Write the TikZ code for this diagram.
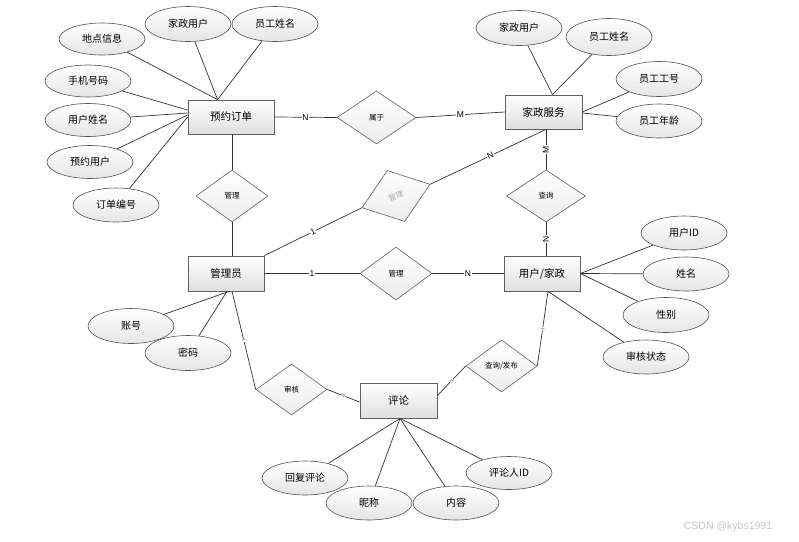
\documentclass[tikz,border=0pt]{standalone}
\usepackage{fontspec}
\setmainfont{Noto Sans CJK SC}
\newfontfamily\lsans{Liberation Sans}
\usetikzlibrary{shapes.geometric,shadows}
\begin{document}
\begin{tikzpicture}[x=1pt,y=-1pt,
  ent/.style={rectangle, draw=gray!75!black, line width=0.8pt, top color=white, bottom color=gray!25,
    minimum width=#1, minimum height=34pt, inner sep=0pt, font=\fontsize{10.5}{12}\selectfont,
    drop shadow={shadow xshift=1.2pt, shadow yshift=-1.2pt, opacity=0.35}},
  ent/.default=77pt,
  attr/.style={ellipse, draw=gray!65!black, line width=0.6pt, top color=white, bottom color=gray!20,
    minimum width=86pt, minimum height=34pt, inner sep=0pt, font=\fontsize{10}{12}\selectfont},
  rel/.style={diamond, draw=gray!75!black, line width=0.6pt, top color=white, bottom color=gray!15,
    minimum width=#1, minimum height=52pt, inner sep=0pt, font=\fontsize{7.5}{9}\selectfont},
  rel/.default=72pt,
  conn/.style={draw=black!80, line width=0.7pt},
  lbl/.style={font=\lsans\fontsize{8.5}{9}\selectfont, fill=white, inner sep=0.6pt},
  tinylbl/.style={font=\lsans\fontsize{4.5}{5}\selectfont, fill=white, inner sep=0.3pt, sloped, text=gray!60!black}
]
\fill[white] (0,0) rectangle (799,541);
\useasboundingbox (0,0) rectangle (799,541);

% entities
\node[ent=86pt] (yy) at (231,117) {预约订单};
\node[ent] (jz) at (543.5,112) {家政服务};
\node[ent=76pt, minimum height=35pt] (gly) at (226,273.5) {管理员};
\node[ent=76pt, minimum height=35pt] (yh) at (542,273.5) {用户/家政};
\node[ent, minimum height=35pt] (pl) at (398.5,400.5) {评论};

% relationships
\node[rel=79pt, minimum height=53pt] (sy) at (376.5,117.5) {属于};
\node[rel] (gl1) at (232,196) {管理};
\node[rel=79pt] (cx) at (546,196) {查询};
\node[rel, minimum height=53pt] (gl2) at (396,273.5) {管理};
\node[rel, minimum height=54pt, rotate=19, text=gray!70] (gl3) at (396,196) {管理};
\node[rel=71pt, minimum height=51pt] (sh) at (291.5,389.5) {审核};
\node[rel=71pt] (cf) at (501.5,366) {查询/发布};

% attributes of 预约订单
\node[attr, minimum height=32pt] (a1) at (102,39) {地点信息};
\node[attr, minimum height=35pt] (a2) at (188,24) {家政用户};
\node[attr, minimum height=35pt] (a3) at (275,24) {员工姓名};
\node[attr, minimum height=32pt] (a4) at (88,81) {手机号码};
\node[attr, minimum height=33pt] (a5) at (88,120) {用户姓名};
\node[attr, minimum height=33pt] (a6) at (90,162) {预约用户};
\node[attr] (a7) at (116,205) {订单编号};

% attributes of 家政服务
\node[attr, minimum height=35pt] (b1) at (519,28) {家政用户};
\node[attr, minimum height=37pt] (b2) at (609,37) {员工姓名};
\node[attr, minimum height=35pt] (b3) at (659,79) {员工工号};
\node[attr] (b4) at (659,121) {员工年龄};

% attributes of 用户/家政
\node[attr] (c1) at (684,233) {用户ID};
\node[attr] (c2) at (686,274) {姓名};
\node[attr, minimum height=35pt] (c3) at (666,315) {性别};
\node[attr] (c4) at (646,357) {审核状态};

% attributes of 管理员
\node[attr, minimum height=35pt] (d1) at (131,326) {账号};
\node[attr, minimum height=35pt] (d2) at (188,353) {密码};

% attributes of 评论
\node[attr] (e1) at (305,478) {回复评论};
\node[attr] (e2) at (369,503) {昵称};
\node[attr] (e3) at (456,503) {内容};
\node[attr, minimum height=33pt] (e4) at (509,473) {评论人ID};

% attribute connectors
\draw[conn] (a1) -- ([xshift=30pt]yy.north west);
\draw[conn] (a2) -- ([xshift=30pt]yy.north west);
\draw[conn] (a3) -- ([xshift=30pt]yy.north west);
\draw[conn] (a4) -- ([yshift=7pt]yy.west);
\draw[conn] (a5) -- ([yshift=4pt]yy.west);
\draw[conn] (a6) -- ([yshift=2pt]yy.west);
\draw[conn] (a7) -- (yy.west);

\draw[conn] (b1) -- ([xshift=9pt]jz.north);
\draw[conn] (b2) -- ([xshift=9pt]jz.north);
\draw[conn] (b3) -- (jz.east);
\draw[conn] (b4) -- ([yshift=-1pt]jz.east);

\draw[conn] (c1) -- (yh.east);
\draw[conn] (c2) -- (yh.east);
\draw[conn] (c3) -- (yh.east);
\draw[conn] (c4) -- ([xshift=6pt]yh.south);

\draw[conn] (d1) -- ([xshift=3pt]gly.south);
\draw[conn] (d2) -- ([xshift=1pt]gly.south);

\draw[conn] (e1) -- ([xshift=1.5pt]pl.south);
\draw[conn] (e2) -- ([xshift=1.5pt]pl.south);
\draw[conn] (e3) -- ([xshift=1.5pt]pl.south);
\draw[conn] (e4) -- ([xshift=1.5pt]pl.south);

% relationship connectors
\draw[conn] (yy.east) -- node[lbl]{N} (sy.west);
\draw[conn] (sy.east) -- node[lbl]{M} (jz.west);
\draw[conn] (cx.north |- jz.south) -- node[lbl, rotate=90]{M} (cx.north);
\draw[conn] (cx.south) -- node[lbl, rotate=90]{N} (cx.south |- yh.north);
\draw[conn] (cx.north |- jz.south) -- node[lbl, sloped, pos=0.48]{N} (gl3.east);
\draw[conn] (gl3.west) -- node[lbl, sloped]{1} (gly.north east);
\draw[conn] (gl1.north |- yy.south) -- (gl1.north);
\draw[conn] (gl1.south) -- (gl1.south |- gly.north);
\draw[conn] (gly.east) -- node[lbl]{1} (gl2.west);
\draw[conn] (gl2.east) -- node[lbl]{N} (yh.west);
\draw[conn] ([xshift=6pt]yh.south) -- node[tinylbl]{1} (cf.east);
\draw[conn] (cf.west) -- node[tinylbl]{N} ([yshift=5pt]pl.east);
\draw[conn] ([xshift=6pt]gly.south) -- node[tinylbl]{1} (sh.west);
\draw[conn] (sh.east) -- node[tinylbl]{N} ([yshift=-1.5pt]pl.west);

% watermark
\node[font=\lsans\fontsize{10.5}{12}\selectfont, text=gray!45] (wm) at (728,527) {CSDN @kybs1991};
\end{tikzpicture}
\end{document}
